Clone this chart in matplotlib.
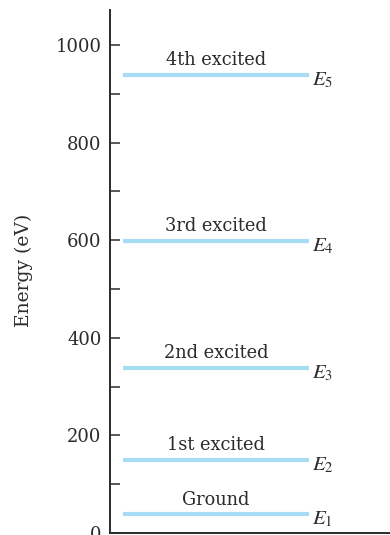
import matplotlib.pyplot as plt
from matplotlib.ticker import MultipleLocator

# energy levels (eV)
levels = [38, 149, 338, 599, 939]
names = ["Ground", "1st excited", "2nd excited", "3rd excited", "4th excited"]
symbols = ["$E_1$", "$E_2$", "$E_3$", "$E_4$", "$E_5$"]

plt.rcParams['font.family'] = ['DejaVu Serif']
plt.rcParams['mathtext.fontset'] = 'stix'

fig = plt.figure(figsize=(3.9, 5.35), dpi=100)
ax = fig.add_axes([110 / 390, 2 / 535, 280 / 390, 523 / 535])

line_col = '#a6dcf4'
ink = '#2b2b2b'
x0, x1 = 0.046, 0.711
for e, name, sym in zip(levels, names, symbols):
    ax.plot([x0, x1], [e, e], color=line_col, lw=3, solid_capstyle='butt')
    ax.text((x0 + x1) / 2, e + 12, name, ha='center', va='bottom',
            fontsize=12.8, color=ink)
    ax.text(x1 + 0.012, e + 10, sym, ha='left', va='top', fontsize=15, color=ink)

ax.set_xlim(0, 1)
ax.set_ylim(0, 1072)
ax.yaxis.set_major_locator(MultipleLocator(200))
ax.yaxis.set_minor_locator(MultipleLocator(100))
ax.tick_params(axis='y', which='both', direction='in', length=7, width=1.1,
               color=ink, labelsize=13, labelcolor=ink, pad=6)
ax.set_xticks([])
for s in ['top', 'right']:
    ax.spines[s].set_visible(False)
for s in ['left', 'bottom']:
    ax.spines[s].set_color(ink)
    ax.spines[s].set_linewidth(1.4)

ax.set_ylabel('Energy (eV)', fontsize=13.5, color=ink)
ax.yaxis.set_label_coords(-0.275, 0.503)

fig.savefig('out.png', dpi=100)
